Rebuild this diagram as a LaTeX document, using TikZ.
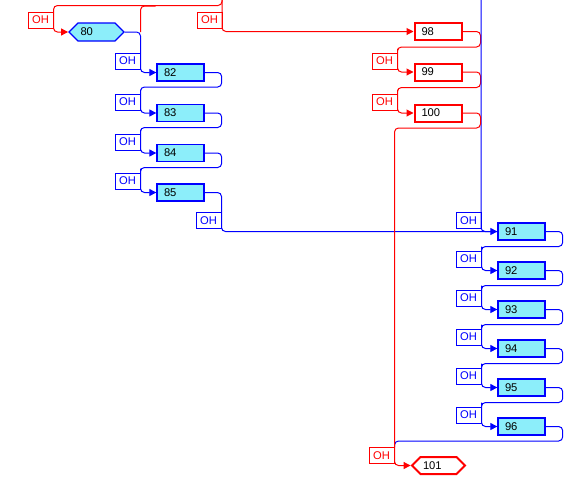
\documentclass[tikz,border=0pt]{standalone}
\usepackage{fontspec}
\setmainfont{Liberation Sans}
\usetikzlibrary{shapes.symbols,arrows.meta,calc}
\definecolor{cyanf}{RGB}{140,238,250}
\definecolor{pr}{RGB}{255,0,0}
\definecolor{pb}{RGB}{0,0,255}
\begin{document}
\begin{tikzpicture}[x=1pt,y=-1pt,
  font=\fontsize{11.2}{13}\selectfont,
  ohR/.style={draw=pr,line width=1pt,fill=white,minimum width=25pt,minimum height=16pt,inner sep=0pt,text=pr},
  ohB/.style={draw=pb,line width=1pt,fill=white,minimum width=25pt,minimum height=16pt,inner sep=0pt,text=pb},
  bbox/.style={draw=pb,line width=1.3pt,fill=cyanf,minimum height=17pt,inner ysep=0pt,inner xsep=7pt,text width=33pt,align=left},
  rbox/.style={draw=pr,line width=2pt,fill=white,minimum height=17pt,inner ysep=0pt,inner xsep=7pt,text width=33pt,align=left},
  hexsh/.style={shape=signal,signal to=west and east,signal pointer angle=90,minimum width=55pt,minimum height=18pt,inner sep=0pt},
  cl/.style={line width=1pt,rounded corners=4pt},
  rl/.style={cl,draw=pr},
  bl/.style={cl,draw=pb},
  arr/.style={-{Triangle[length=7pt,width=7pt]}}
]
\useasboundingbox (0,0) rectangle (580,493);
% red OH boxes
\node[ohR] (ohA) at (40.5,20) {OH};
\node[ohR] (ohB) at (209.5,20) {OH};
\node[ohR] (oh99) at (384.5,61) {OH};
\node[ohR] (oh100) at (384.5,102) {OH};
\node[ohR] (oh101) at (381.5,455.5) {OH};
% blue OH boxes
\node[ohB] (oh82) at (127.5,61) {OH};
\node[ohB] (oh83) at (127.5,102) {OH};
\node[ohB] (oh84) at (127.5,142) {OH};
\node[ohB] (oh85) at (127.5,181) {OH};
\node[ohB] (oh91a) at (208.5,220.5) {OH};
\node[ohB] (oh91b) at (468.5,220.5) {OH};
\node[ohB] (oh92) at (468.5,259) {OH};
\node[ohB] (oh93) at (468.5,298) {OH};
\node[ohB] (oh94) at (468.5,337) {OH};
\node[ohB] (oh95) at (468.5,376) {OH};
\node[ohB] (oh96) at (468.5,415) {OH};
% boxes
\node[hexsh,draw=pb,line width=1.3pt,fill=cyanf] (n80) at (96.5,32) {\makebox[32pt][l]{80}};
\node[bbox] (n82) at (180.5,72.5) {82};
\node[bbox] (n83) at (180.5,113) {83};
\node[bbox] (n84) at (180.5,153) {84};
\node[bbox] (n85) at (180.5,192.5) {85};
\node[bbox] (n91) at (521.5,231.5) {91};
\node[bbox] (n92) at (521.5,270.5) {92};
\node[bbox] (n93) at (521.5,309.5) {93};
\node[bbox] (n94) at (521.5,348.5) {94};
\node[bbox] (n95) at (521.5,387.5) {95};
\node[bbox] (n96) at (521.5,426.5) {96};
\node[rbox] (n98) at (438,31.5) {98};
\node[rbox] (n99) at (438,72) {99};
\node[rbox] (n100) at (438,113) {100};
\node[hexsh,draw=pr,line width=2pt,fill=white,minimum width=53pt,minimum height=17pt] (n101) at (438.5,465.5) {\makebox[31pt][l]{101}};
\coordinate (topR) at (222,0);
\coordinate (topB) at (481,0);
\coordinate (cj) at (oh82.north east |- n80.east);
% red loops (under blue)
\draw[rl,arr] (n98.east) -- ++(18,0) -- ++(0,15.5) -| (oh99.north east) |- (n99.west);
\draw[rl,arr] (n99.east) -- ++(18,0) -- ++(0,15.5) -| (oh100.north east) |- (n100.west);
% blue
\draw[bl,arr] (n80.east) -| (oh82.north east) |- (n82.west);
\draw[bl,arr] (n82.east) -- ++(17,0) -- ++(0,14.5) -| (oh83.north east) |- (n83.west);
\draw[bl,arr] (n83.east) -- ++(17,0) -- ++(0,14.5) -| (oh84.north east) |- (n84.west);
\draw[bl,arr] (n84.east) -- ++(17,0) -- ++(0,14.5) -| (oh85.north east) |- (n85.west);
\draw[bl,arr] (n85.east) -| (oh91a.north east) |- (n91.west);
\draw[bl] (topB) |- (n91.west);
\draw[bl,arr] (n91.east) -- ++(17,0) -- ++(0,15) -| (oh92.north east) |- (n92.west);
\draw[bl,arr] (n92.east) -- ++(17,0) -- ++(0,15) -| (oh93.north east) |- (n93.west);
\draw[bl,arr] (n93.east) -- ++(17,0) -- ++(0,15) -| (oh94.north east) |- (n94.west);
\draw[bl,arr] (n94.east) -- ++(17,0) -- ++(0,15) -| (oh95.north east) |- (n95.west);
\draw[bl,arr] (n95.east) -- ++(17,0) -- ++(0,15) -| (oh96.north east) |- (n96.west);
\draw[bl] (n96.east) -- ++(17,0) -- ++(0,14.5) -| (oh101.north east);
% red on top
\draw[rl,arr] (topR) |- (n98.west);
\draw[rl,arr] (topR) |- ($(ohA.north east)+(0,-6)$) |- (n80.west);
\draw[rl] (cj) |- ($(cj)+(15,-26)$);
\draw[rl,arr] (n100.east) -- ++(18,0) -- ++(0,15) -| (oh101.north east) |- (n101.west);
\end{tikzpicture}
\end{document}
